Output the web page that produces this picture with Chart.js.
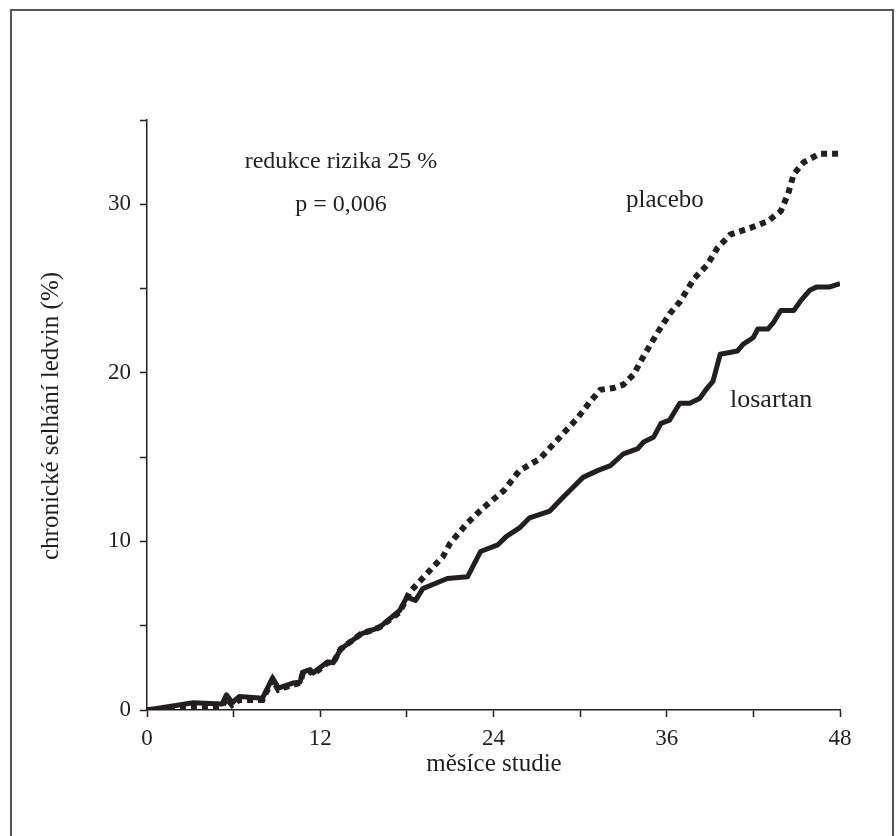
<!DOCTYPE html>
<html>
<head>
<meta charset="utf-8">
<script src="https://cdn.jsdelivr.net/npm/chart.js@4/dist/chart.umd.min.js"></script>
<style>
  html, body { margin: 0; padding: 0; background: #fff; }
  #wrap { width: 896px; height: 836px; position: relative; }
</style>
</head>
<body>
<div id="wrap"><canvas id="chart"></canvas></div>
<script>
// months on x, cumulative % on y
var losartanMonths = [0, 3.2, 5.2, 5.5, 5.9, 6.4, 8.0, 8.7, 9.1, 10.1, 10.6, 10.8, 11.3, 11.5, 12.5, 12.9, 13.4, 14.8, 16.1, 17.5, 18.0, 18.6, 19.1, 20.8, 22.2, 23.1, 24.3, 24.9, 25.8, 26.5, 27.9, 28.8, 29.5, 30.2, 31.2, 32.1, 33.0, 34.0, 34.4, 35.1, 35.6, 36.2, 36.9, 37.6, 38.3, 38.8, 39.2, 39.7, 40.9, 41.3, 42.0, 42.3, 43.0, 43.4, 43.9, 44.8, 45.3, 45.9, 46.4, 47.3, 48.0];
var losartanValues = [0, 0.43, 0.35, 0.9, 0.43, 0.8, 0.7, 1.9, 1.3, 1.6, 1.65, 2.25, 2.4, 2.2, 2.85, 2.8, 3.6, 4.5, 4.9, 5.9, 6.7, 6.5, 7.2, 7.8, 7.9, 9.4, 9.8, 10.3, 10.8, 11.4, 11.8, 12.6, 13.2, 13.8, 14.2, 14.5, 15.2, 15.5, 15.9, 16.2, 17.0, 17.2, 18.2, 18.2, 18.5, 19.1, 19.5, 21.1, 21.3, 21.7, 22.1, 22.6, 22.6, 23.0, 23.7, 23.7, 24.3, 24.9, 25.1, 25.1, 25.3];

var placeboMonths = [0, 3.2, 5.2, 5.5, 5.9, 6.4, 8.0, 8.7, 9.1, 10.1, 10.6, 10.8, 11.3, 11.5, 12.5, 12.9, 13.4, 14.8, 16.1, 17.5, 18.2, 19.4, 20.5, 21.0, 22.2, 23.3, 24.7, 25.8, 27.2, 28.4, 29.8, 30.7, 31.4, 32.3, 33.0, 33.7, 34.4, 35.3, 36.2, 36.9, 37.9, 38.8, 39.5, 40.4, 41.8, 43.0, 43.9, 44.4, 44.8, 45.5, 46.6, 48.0];
var placeboValues = [0, 0.15, 0.2, 0.7, 0.3, 0.6, 0.6, 1.8, 1.2, 1.5, 1.6, 2.2, 2.3, 2.1, 2.8, 2.8, 3.6, 4.5, 4.9, 5.8, 7.0, 8.1, 9.1, 9.9, 11.1, 12.0, 13.0, 14.2, 14.9, 16.0, 17.3, 18.3, 19.0, 19.1, 19.3, 19.9, 21.0, 22.3, 23.5, 24.2, 25.6, 26.4, 27.4, 28.2, 28.6, 29.0, 29.6, 30.6, 31.8, 32.5, 33.0, 33.0];

var xTickLabels = [0, 12, 24, 36, 48];
var yTickLabels = [0, 10, 20, 30];

function toPoints(xs, ys) {
  var pts = [];
  for (var i = 0; i < xs.length; i++) pts.push({x: xs[i], y: ys[i]});
  return pts;
}

var serif = "'Liberation Serif', 'Times New Roman', serif";
var ink = "#231f20";

var textPlugin = {
  id: "texts",
  beforeDraw: function(chart) {
    var c = chart.ctx;
    c.save();
    c.strokeStyle = "#555";
    c.lineWidth = 2;
    c.strokeRect(11, 10, 882, 840);
    c.restore();
  },
  afterDraw: function(chart) {
    var c = chart.ctx;
    c.save();
    c.fillStyle = ink;
    c.textBaseline = "alphabetic";
    c.font = "24px " + serif;
    c.textAlign = "center";
    c.fillText("redukce rizika 25 %", 341, 168);
    c.fillText("p = 0,006", 341, 211);
    c.textAlign = "left";
    c.font = "25px " + serif;
    c.fillText("placebo", 626, 207);
    c.font = "26px " + serif;
    c.fillText("losartan", 730, 407);
    c.font = "25px " + serif;
    c.textAlign = "center";
    c.textBaseline = "middle";
    c.fillText("měsíce studie", 494, 764);
    c.translate(51, 416);
    c.rotate(-Math.PI / 2);
    c.fillText("chronické selhání ledvin (%)", 0, 0);
    c.restore();
  }
};

var ctx = document.getElementById("chart");
var chart = new Chart(ctx, {
  type: "line",
  data: {
    datasets: [
      {
        label: "losartan",
        data: toPoints(losartanMonths, losartanValues),
        borderColor: ink,
        borderWidth: 5,
        pointRadius: 0,
        tension: 0,
        borderJoinStyle: "round",
        fill: false
      },
      {
        label: "placebo",
        data: toPoints(placeboMonths, placeboValues),
        borderColor: ink,
        borderWidth: 6,
        borderDash: [6, 5],
        borderCapStyle: "butt",
        pointRadius: 0,
        tension: 0,
        fill: false
      }
    ]
  },
  options: {
    responsive: true,
    maintainAspectRatio: false,
    animation: false,
    layout: { padding: { top: 120, right: 56, bottom: 0, left: 0 } },
    plugins: {
      legend: { display: false },
      tooltip: { enabled: false }
    },
    scales: {
      x: {
        type: "linear",
        min: 0,
        max: 48,
        grid: { drawOnChartArea: false, drawTicks: true, tickLength: 7, color: ink, tickWidth: 1.5 },
        border: { color: ink, width: 1.5 },
        ticks: {
          stepSize: 6,
          padding: 8,
          color: ink,
          font: { family: serif, size: 23 },
          maxRotation: 0,
          callback: function(v) { return xTickLabels.indexOf(v) >= 0 ? String(v) : ""; }
        },
        afterFit: function(s) { s.height = 126; s.paddingLeft = 0; s.paddingRight = 0; }
      },
      y: {
        min: 0,
        max: 35,
        grid: { drawOnChartArea: false, drawTicks: true, tickLength: 7, color: ink, tickWidth: 1.5 },
        border: { color: ink, width: 1.5 },
        ticks: {
          stepSize: 5,
          padding: 9,
          color: ink,
          font: { family: serif, size: 23 },
          callback: function(v) { return yTickLabels.indexOf(v) >= 0 ? String(v) : ""; }
        },
        afterFit: function(s) { s.width = 147; s.paddingTop = 0; s.paddingBottom = 0; }
      }
    }
  },
  plugins: [textPlugin]
});
</script>
</body>
</html>
